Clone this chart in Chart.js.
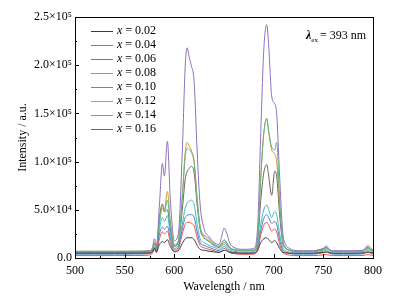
<!DOCTYPE html>
<html><head><meta charset="utf-8">
<script src="https://cdn.jsdelivr.net/npm/chart.js@4/dist/chart.umd.min.js"></script>
<style>html,body{margin:0;padding:0;background:#fff}#wrap{width:407px;height:298px}</style>
</head><body><div id="wrap"><canvas id="c" width="407" height="298"></canvas></div>
<script>
const wavelengths = [500,520,540,560,575,578,580,582,585,588,590,593,596,600,604,608,611,613,615,617,620,623,626,630,635,640,645,648,650,653,656,660,670,680,684,687,690,693,695,698,701,703,706,709,712,716,720,730,740,745,750,753,756,760,770,780,790,795,798,800];

const x002 = [5000,5000,5000,5100,5300,6500,10000,6500,14000,17000,16000,19000,12000,6500,7500,15000,20000,21000,21000,21000,19000,13000,9000,8000,7000,6300,5800,7000,8000,7200,5800,5300,5000,5200,8000,16000,20000,21000,19000,16000,18000,16000,10000,6000,5300,5000,5000,5000,5000,5300,5800,6200,5500,5000,5000,5000,5100,6000,5500,5100];
const x004 = [2500,2500,2500,2600,3000,5000,9000,5500,20000,27000,25000,28000,16000,7000,9000,25000,35000,37000,37000,36000,33000,21000,13000,10500,9000,7500,6000,8000,10000,8500,5500,4500,3800,4000,9000,24000,34000,37000,34000,28000,30000,27000,14000,6000,4000,3000,2500,2500,2500,2800,3200,3500,3000,2500,2500,2500,2700,3500,3000,2700];
const x006 = [4000,4000,4000,4100,4500,6500,11000,7000,25000,32000,30000,33000,20000,8500,11000,30000,42000,44000,45000,45000,42000,27000,16000,13000,11000,9000,7500,10000,12000,10000,7000,5800,5000,5300,11000,28000,41000,45000,42000,36000,38000,35000,19000,8500,6000,4800,4000,4000,4000,4600,5500,6500,5000,4000,4000,4000,4400,6500,5000,4400];
const x008 = [6000,6000,6000,6100,6500,8500,15000,9500,36000,52000,48000,60000,35000,13000,17000,62000,105000,114000,112000,110000,98000,60000,32000,24000,20000,15000,12000,16000,18500,15500,10500,8500,7500,8000,21000,82000,128000,145000,132000,115000,112000,120000,60000,20000,10500,8000,6500,6300,6300,7000,8000,9500,7500,6300,6300,6300,6800,9500,7500,6800];
const x010 = [6000,6000,6000,6200,7000,11000,20000,12000,55000,98000,85000,121000,60000,18000,25000,110000,200000,218000,208000,200000,182000,110000,55000,30000,22000,16000,14000,24000,31000,25000,15000,11000,9000,10000,35000,130000,215000,242000,220000,168000,160000,150000,85000,28000,14000,10000,8000,7500,7500,8500,10000,12500,9000,7500,7500,7500,8000,13000,10000,8500];
const x012 = [6500,6500,6500,6600,7000,9000,16000,10000,38000,55000,50000,69000,38000,14000,18000,65000,110000,120000,116000,112000,100000,62000,33000,22000,18000,14000,12000,16000,19000,16000,11000,9000,8000,8500,22000,85000,130000,144000,130000,112000,108000,100000,55000,20000,11000,8500,7000,6800,6800,7500,8500,10000,8000,6800,6800,6800,7200,10000,8000,7200];
const x014 = [5000,5000,5000,5100,5500,7500,13000,8000,30000,42000,38000,44000,25000,10000,13000,35000,52000,57000,59000,60000,55000,35000,20000,16000,13000,11000,9000,12000,14000,12000,8500,7000,6000,6500,14000,35000,50000,55000,50000,42000,48000,45000,25000,11000,7500,6000,5000,5000,5000,5800,7000,8000,6200,5000,5000,5000,5500,8000,6200,5500];
const x016 = [7000,7000,7000,7100,7500,9000,15000,10000,42000,56000,48000,50000,30000,12000,16000,50000,82000,90000,93000,95000,88000,55000,30000,21000,17000,13000,11000,14000,16000,14000,10000,8500,7500,8000,18000,60000,88000,97000,85000,65000,90000,85000,45000,16000,10000,8000,7000,7000,7000,8000,9500,11000,8500,7000,7000,7000,7500,11000,8500,7500];

const seriesNames = ['0.02','0.04','0.06','0.08','0.10','0.12','0.14','0.16'];
const yTickValues = [0,50000,100000,150000,200000,250000];
const yTickLabels = ['0.0','5.0×10⁴','1.0×10⁵','1.5×10⁵','2.0×10⁵','2.5×10⁵'];
const xTickLabels = ['500','550','600','650','700','750','800'];
const exLabel = '= 393 nm';

const allSeries = [x002,x004,x006,x008,x010,x012,x014,x016];
const colors = ['#3a3a3a','#f05050','#4f7fc8','#5cb58a','#8c70c0','#c8a030','#30c0c8','#6e6060'];
const FONT = '"Liberation Serif", "Times New Roman", serif';

const datasets = allSeries.map((s,i)=>({
  label: 'x = ' + seriesNames[i],
  data: wavelengths.map((w,j)=>({x:w,y:s[j]})),
  borderColor: colors[i],
  backgroundColor: colors[i],
  borderWidth: 1,
  pointRadius: 0,
  fill: false,
  cubicInterpolationMode: 'monotone'
}));

const decor = {
  id:'decor',
  afterDatasetsDraw(chart){
    const ctx = chart.ctx, a = chart.chartArea;
    const xs = chart.scales.x, ys = chart.scales.y;
    ctx.save();
    ctx.strokeStyle = '#000';
    ctx.lineWidth = 1;
    ctx.strokeRect(Math.round(a.left)+0.5, Math.round(a.top)+0.5, Math.round(a.right-a.left), Math.round(a.bottom-a.top));
    ctx.beginPath();
    for (let v=500; v<=800; v+=25){
      const px = Math.round(xs.getPixelForValue(v))+0.5;
      const len = (v%50===0)?4:2;
      ctx.moveTo(px, a.bottom); ctx.lineTo(px, a.bottom-len);
    }
    for (let v=0; v<=250000; v+=25000){
      const py = Math.round(ys.getPixelForValue(v))+0.5;
      const len = (v%50000===0)?4:2;
      ctx.moveTo(a.left, py); ctx.lineTo(a.left+len, py);
    }
    ctx.stroke();
    // legend
    ctx.textBaseline = 'middle';
    chart.data.datasets.forEach((d,i)=>{
      const y = a.top + 14 + i*14;
      ctx.strokeStyle = d.borderColor;
      ctx.lineWidth = 1;
      ctx.beginPath();
      ctx.moveTo(a.left+16, Math.round(y)+0.5); ctx.lineTo(a.left+38, Math.round(y)+0.5);
      ctx.stroke();
      ctx.fillStyle = '#000';
      ctx.font = 'italic 12px ' + FONT;
      ctx.textAlign = 'left';
      ctx.fillText('x', a.left+42, y);
      const w = ctx.measureText('x').width;
      ctx.font = '12px ' + FONT;
      ctx.fillText(' = ' + seriesNames[i], a.left+42+w, y);
    });
    // lambda ex annotation
    ctx.textAlign = 'right';
    ctx.font = '12px ' + FONT;
    const tx = a.right - 7, ty = a.top + 19;
    ctx.fillText(exLabel, tx, ty);
    const ew = ctx.measureText(exLabel).width;
    ctx.font = '7px ' + FONT;
    ctx.fillText('ex', tx - ew - 2, ty + 4);
    const sw = ctx.measureText('ex').width;
    ctx.font = 'italic bold 12px ' + FONT;
    ctx.fillText('λ', tx - ew - 2 - sw, ty);
    ctx.restore();
  }
};

new Chart(document.getElementById('c'), {
  type:'line',
  data:{datasets},
  options:{
    responsive:false,
    devicePixelRatio:1,
    animation:false,
    layout:{padding:{top:17,right:34,left:0,bottom:0}},
    plugins:{legend:{display:false},tooltip:{enabled:false}},
    scales:{
      x:{
        type:'linear', min:500, max:800,
        afterFit(s){ s.height = 40; },
        afterBuildTicks(s){ s.ticks = xTickLabels.map(t=>({value:Number(t)})); },
        grid:{display:false, drawTicks:false},
        border:{display:false},
        ticks:{padding:6, color:'#000', font:{family:FONT,size:12}, maxRotation:0, autoSkip:false,
          callback:(v)=>{const i=xTickLabels.indexOf(String(v)); return i>=0?xTickLabels[i]:'';}},
        title:{display:true, text:'Wavelength / nm', color:'#000', font:{family:FONT,size:12}, padding:{top:0,bottom:4}}
      },
      y:{
        type:'linear', min:0, max:250000,
        afterFit(s){ s.width = 75; },
        afterBuildTicks(s){ s.ticks = yTickValues.map(v=>({value:v})); },
        grid:{display:false, drawTicks:false},
        border:{display:false},
        ticks:{padding:3, color:'#000', font:{family:FONT,size:12}, autoSkip:false,
          callback:(v)=>{const i=yTickValues.indexOf(v); return i>=0?yTickLabels[i]:'';}},
        title:{display:true, text:'Intensity / a.u.', color:'#000', font:{family:FONT,size:12}, padding:{top:16,bottom:0}}
      }
    }
  },
  plugins:[decor]
});
</script></body></html>
